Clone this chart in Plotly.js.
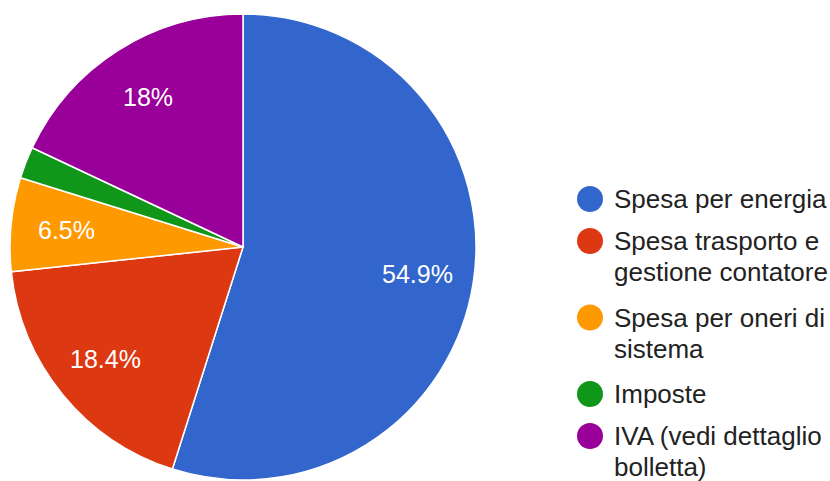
<!DOCTYPE html>
<html>
<head>
<meta charset="utf-8">
<script src="https://cdn.plot.ly/plotly-3.0.1.min.js"></script>
<style>html,body{margin:0;padding:0;background:#fff;}#chart{width:830px;height:481px;}</style>
</head>
<body>
<div id="chart"></div>
<script>
var categories = ["Spesa per energia", "Spesa trasporto e\ngestione contatore", "Spesa per oneri di\nsistema", "Imposte", "IVA (vedi dettaglio\nbolletta)"];
var values = [54.9, 18.4, 6.5, 2.2, 18];
var colors = ["#3366cc", "#dc3912", "#ff9900", "#109618", "#990099"];
var showLabel = [true, true, true, false, true];

var W = 830, H = 481;
var cx = 243, cy = 247, R = 233;
var labelRadius = 0.76;
var font = "Arial, 'Liberation Sans', sans-serif";

var trace = {
  type: "pie",
  labels: categories.map(function(c){ return c.replace("\n", " "); }),
  values: values,
  sort: false,
  direction: "clockwise",
  rotation: 0,
  marker: {colors: colors, line: {color: "#ffffff", width: 1.5}},
  textinfo: "none",
  showlegend: false,
  hoverinfo: "label+percent",
  domain: {x: [(cx - R) / W, (cx + R) / W], y: [1 - (cy + R) / H, 1 - (cy - R) / H]}
};

function fmtPct(v) {
  var t = (100 * v).toPrecision(3);
  if (t.indexOf(".") !== -1) t = t.replace(/[.]?0+$/, "");
  return t + "%";
}

var shapes = [], annotations = [];

// slice percentage labels, placed along each slice's mid-angle
var total = values.reduce(function(a, b){ return a + b; }, 0);
var cum = 0;
values.forEach(function(v, i){
  var frac = v / total;
  var mid = (cum + frac / 2) * 2 * Math.PI;
  cum += frac;
  if (!showLabel[i]) return;
  var px = cx + labelRadius * R * Math.sin(mid);
  var py = cy - labelRadius * R * Math.cos(mid);
  annotations.push({
    xref: "paper", yref: "paper", x: px / W, y: 1 - py / H,
    xanchor: "center", yanchor: "middle", showarrow: false,
    text: fmtPct(frac), font: {family: font, size: 25, color: "#ffffff"}
  });
});

// legend
var ly = 199;
categories.forEach(function(c, i){
  var lines = c.split("\n");
  shapes.push({
    type: "circle", xref: "paper", yref: "paper",
    xsizemode: "pixel", ysizemode: "pixel",
    xanchor: 590 / W, yanchor: 1 - ly / H,
    x0: -13, x1: 13, y0: -13, y1: 13,
    fillcolor: colors[i], line: {width: 0}
  });
  lines.forEach(function(t, j){
    annotations.push({
      xref: "paper", yref: "paper", x: 612 / W, y: 1 - (ly + j * 31) / H,
      xanchor: "left", yanchor: "middle", showarrow: false,
      text: t, font: {family: font, size: 26, color: "#222222"}
    });
  });
  ly += 42 + (lines.length - 1) * 34.5;
});

var layout = {
  width: W, height: H,
  margin: {l: 0, r: 0, t: 0, b: 0},
  paper_bgcolor: "#ffffff",
  showlegend: false,
  shapes: shapes,
  annotations: annotations
};

Plotly.newPlot("chart", [trace], layout, {displayModeBar: false, staticPlot: true});
</script>
</body>
</html>
